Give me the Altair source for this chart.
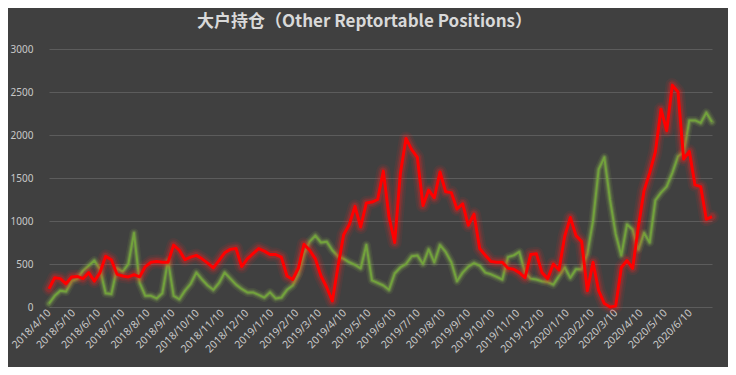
import altair as alt
import pandas as pd

# ---- data ----
start_date = "2018-04-10"
n_weeks = 118

red_values = [210, 340, 330, 270, 350, 355, 330, 400, 300, 400,
              590, 550, 380, 360, 350, 375, 350, 470, 520, 530,
              520, 520, 720, 660, 550, 580, 600, 560, 510, 455,
              540, 630, 670, 680, 470, 560, 620, 680, 650, 610,
              610, 580, 360, 320, 450, 730, 660, 560, 360, 230,
              70, 470, 840, 960, 1170, 930, 1210, 1220, 1250, 1580,
              1050, 750, 1550, 1960, 1830, 1740, 1180, 1360, 1270, 1570,
              1340, 1330, 1140, 1200, 950, 1080, 680, 600, 530, 520,
              520, 450, 440, 400, 340, 610, 620, 400, 330, 500,
              430, 820, 1040, 830, 760, 190, 520, 190, 40, 0,
              10, 460, 540, 450, 930, 1350, 1560, 1800, 2300, 2050,
              2580, 2500, 1720, 1810, 1420, 1400, 1020, 1050]

green_values = [40, 130, 190, 180, 300, 330, 420, 480, 540, 440,
                160, 150, 450, 410, 500, 860, 280, 130, 130, 100,
                160, 540, 130, 90, 190, 270, 400, 320, 250, 200,
                280, 400, 330, 260, 210, 170, 170, 140, 110, 170,
                100, 110, 200, 250, 380, 620, 760, 830, 750, 760,
                660, 590, 560, 520, 490, 450, 720, 310, 280, 250,
                200, 390, 460, 500, 590, 600, 500, 670, 520, 720,
                640, 520, 300, 400, 470, 510, 480, 400, 380, 350,
                320, 580, 600, 640, 400, 330, 320, 300, 290, 260,
                360, 460, 340, 440, 440, 620, 1000, 1600, 1740, 1250,
                850, 600, 960, 900, 670, 860, 750, 1240, 1330, 1400,
                1560, 1750, 1800, 2170, 2170, 2140, 2260, 2150]

x_tick_labels = ["2018/4/10", "2018/5/10", "2018/6/10", "2018/7/10", "2018/8/10",
                 "2018/9/10", "2018/10/10", "2018/11/10", "2018/12/10", "2019/1/10",
                 "2019/2/10", "2019/3/10", "2019/4/10", "2019/5/10", "2019/6/10",
                 "2019/7/10", "2019/8/10", "2019/9/10", "2019/10/10", "2019/11/10",
                 "2019/12/10", "2020/1/10", "2020/2/10", "2020/3/10", "2020/4/10",
                 "2020/5/10", "2020/6/10"]
y_ticks = [0, 500, 1000, 1500, 2000, 2500, 3000]

title_text = "大户持仓（Other Reptortable Positions）"

# ---- build table (long form) ----
dates = pd.date_range(start=start_date, periods=n_weeks, freq="7D")
date_str = list(dates.strftime("%Y-%m-%d"))
df = pd.DataFrame({
    "date": date_str * 2,
    "value": red_values + green_values,
    "series": ["red"] * n_weeks + ["green"] * n_weeks,
})


def to_ms(s):
    return int(pd.to_datetime(s, format="%Y/%m/%d").timestamp() * 1000)


tick_ms = [to_ms(s) for s in x_tick_labels]
dom = [int(dates[0].timestamp() * 1000), int(dates[-1].timestamp() * 1000)]

BG = "#404040"
LABEL = "#c8c8c8"

x_enc = alt.X(
    "date:T",
    scale=alt.Scale(type="utc", domain=dom, nice=False),
    axis=alt.Axis(
        values=tick_ms,
        labelExpr="utcFormat(datum.value, '%Y/%-m/%-d')",
        labelAngle=-45,
        labelAlign="right",
        labelBaseline="middle",
        labelPadding=4,
        labelFontSize=10.5,
        labelColor=LABEL,
        labelFont="Noto Sans",
        labelOverlap=False,
        labelBound=False,
        ticks=False,
        domain=False,
        grid=False,
        title=None,
    ),
)

y_enc = alt.Y(
    "value:Q",
    scale=alt.Scale(domain=[0, 3000], nice=False),
    axis=alt.Axis(
        values=y_ticks,
        format="d",
        labelFontSize=10,
        labelColor=LABEL,
        labelFont="Noto Sans",
        labelPadding=16,
        ticks=False,
        domain=False,
        grid=True,
        gridColor="#5c5c5c",
        gridWidth=1,
        title=None,
    ),
)

base = alt.Chart(df)
green = base.transform_filter(alt.datum.series == "green")
red = base.transform_filter(alt.datum.series == "red")

layers = []
# green glow + line
for w, op in [(9, 0.10), (6, 0.16), (4, 0.25)]:
    layers.append(green.mark_line(color="#8fc050", strokeWidth=w, opacity=op,
                                  strokeJoin="round", strokeCap="round")
                  .encode(x=x_enc, y=y_enc))
layers.append(green.mark_line(color="#72a23c", strokeWidth=2, strokeJoin="round")
              .encode(x=x_enc, y=y_enc))

# red glow + line
for w, op in [(14, 0.08), (10, 0.12), (7, 0.2)]:
    layers.append(red.mark_line(color="#ff2020", strokeWidth=w, opacity=op,
                                strokeJoin="round", strokeCap="round")
                  .encode(x=x_enc, y=y_enc))
layers.append(red.mark_line(color="#ff0000", strokeWidth=3, strokeJoin="round")
              .encode(x=x_enc, y=y_enc))

chart = alt.layer(*layers).properties(
    width=663,
    height=258,
    background=BG,
    padding={"left": 41, "top": 41, "right": 16, "bottom": 60},
    autosize=alt.AutoSizeParams(type="none"),
    title=alt.TitleParams(
        text=title_text,
        font="Noto Sans CJK SC",
        fontSize=17,
        fontWeight="bold",
        color="#d9d9d9",
        anchor="middle",
        offset=13,
        dx=-16,
    ),
).configure_view(stroke=None, fill=BG)

chart.save("out.html", embed_options={"renderer": "svg", "actions": False})
